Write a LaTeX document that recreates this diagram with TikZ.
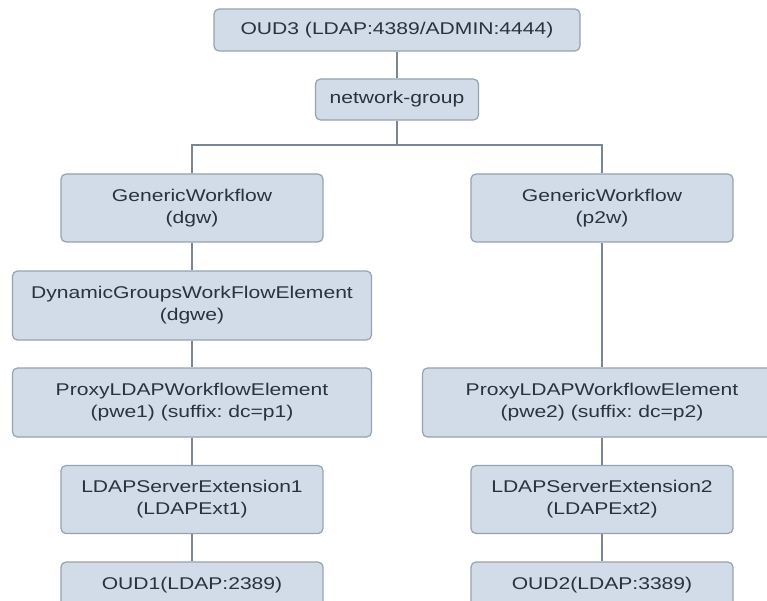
\documentclass[tikz,border=0pt]{standalone}
\usepackage{fontspec}
\setmainfont{Liberation Sans}[FakeStretch=1.24]
\usetikzlibrary{positioning}
\frenchspacing

\definecolor{boxfill}{RGB}{209,220,232}
\definecolor{boxline}{RGB}{150,162,176}
\definecolor{boxtext}{RGB}{40,50,64}
\definecolor{wire}{RGB}{122,134,148}

\begin{document}
\begin{tikzpicture}[
  x=1pt, y=-1pt,
  font=\fontsize{17}{22}\selectfont,
  box/.style  ={draw=boxline, fill=boxfill, text=boxtext, rounded corners=5pt,
                align=center, inner sep=0pt, line width=1.2pt},
  wf/.style   ={box, minimum width=262pt, minimum height=68pt},
  elem/.style ={box, minimum width=359pt, minimum height=69pt},
  srv/.style  ={box, minimum width=262pt, minimum height=46pt},
  link/.style ={draw=wire, line width=1.3pt},
]

\clip (0,0) rectangle (767,601);

\def\xl{192}
\def\xr{602}
\def\xm{397}

\node[box, minimum width=366pt, minimum height=42pt] (oud3) at (\xm,30) {OUD3 (LDAP:4389/ADMIN:4444)};
\node[box, minimum width=163pt, minimum height=41pt] (ngrp) at (\xm,99.5) {network-group};
\coordinate (bus) at (\xm,145);

% left branch
\node[wf]   (gwl)  at (\xl,208)   {GenericWorkflow\\(dgw)};
\node[elem] (dgwe) at (\xl,305.5) {DynamicGroupsWorkFlowElement\\(dgwe)};
\node[elem] (pwe1) at (\xl,402.5) {ProxyLDAPWorkflowElement\\(pwe1) (suffix: dc=p1)};
\node[wf]   (ext1) at (\xl,499.5) {LDAPServerExtension1\\(LDAPExt1)};
\node[srv]  (oud1) at (\xl,585)   {OUD1(LDAP:2389)};

% right branch
\node[wf]   (gwr)  at (\xr,208)   {GenericWorkflow\\(p2w)};
\node[elem] (pwe2) at (\xr,402.5) {ProxyLDAPWorkflowElement\\(pwe2) (suffix: dc=p2)};
\node[wf]   (ext2) at (\xr,499.5) {LDAPServerExtension2\\(LDAPExt2)};
\node[srv]  (oud2) at (\xr,585)   {OUD2(LDAP:3389)};

\draw[link] (oud3) -- (ngrp);
\draw[link] (ngrp) -- (bus);
\draw[link] (gwl.north) |- (bus) -| (gwr.north);

\draw[link] (gwl) -- (dgwe);   \draw[link] (dgwe) -- (pwe1);
\draw[link] (pwe1) -- (ext1);  \draw[link] (ext1) -- (oud1);

\draw[link] (gwr) -- (pwe2);   \draw[link] (pwe2) -- (ext2);
\draw[link] (ext2) -- (oud2);

\end{tikzpicture}
\end{document}
